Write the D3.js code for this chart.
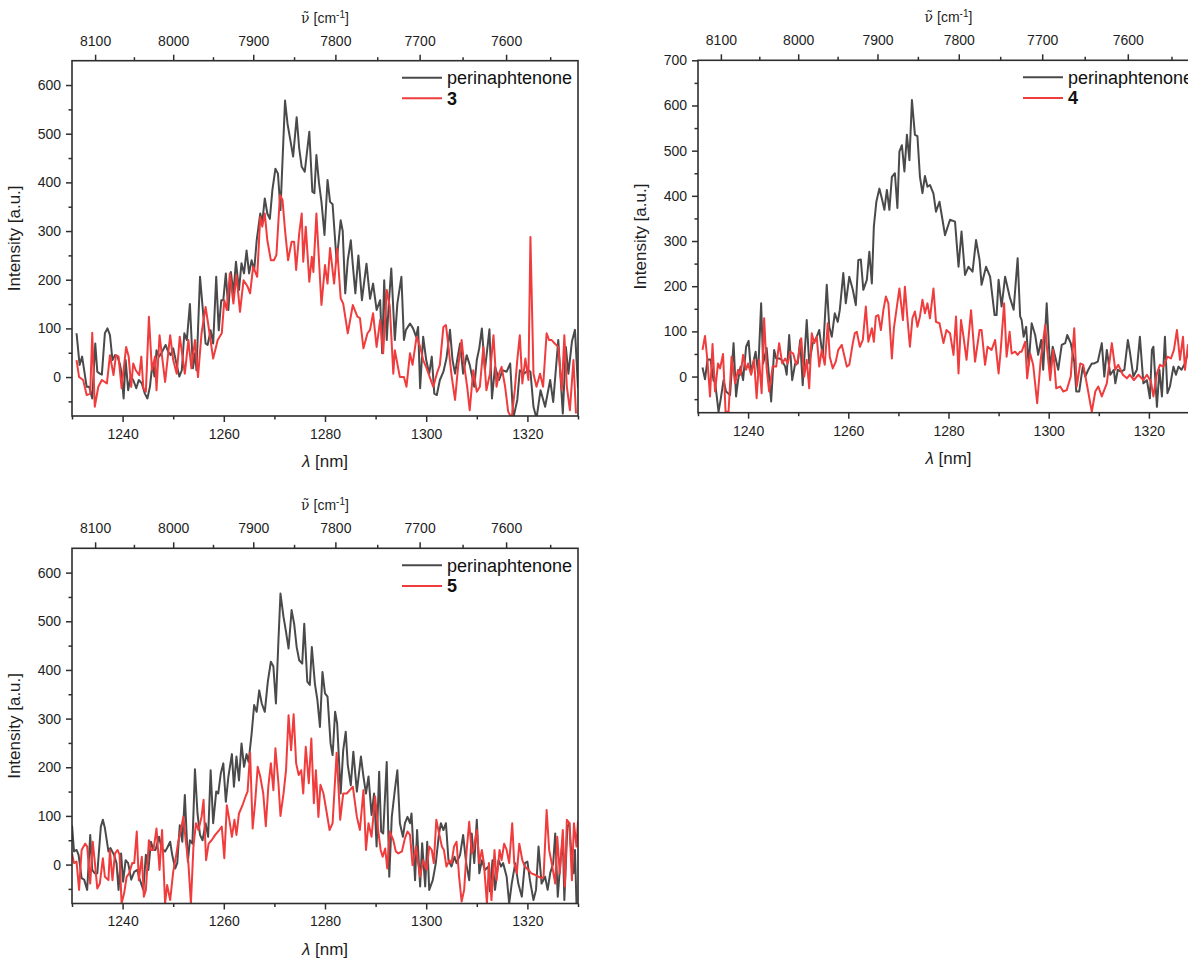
<!DOCTYPE html>
<html><head><meta charset="utf-8">
<script src="https://cdn.jsdelivr.net/npm/d3@7"></script>
<style>
body{margin:0;background:#fff}
svg{display:block}
text{font-family:"Liberation Sans",Arial,Helvetica,sans-serif}
</style>
</head><body>
<svg id="chart" width="1188" height="959"></svg>
<script>
// ---------------- DATA ----------------
// wavelength axis (nm)
const lambdaDomain = [1230, 1330];
const lambdaMajorTicks = [1240, 1260, 1280, 1300, 1320];
const lambdaMinorTicks = [1230, 1250, 1270, 1290, 1310, 1330];
// top wavenumber axis (cm-1)
const wavenumberMajorTicks = [8100, 8000, 7900, 7800, 7700, 7600];
const wavenumberMinorTicks = [8050, 7950, 7850, 7750, 7650, 7550];
// intensity axis
const intensityMin = -80;
const intensityMaxA = 650, intensityMaxB = 700;
const intensityMajorA = [0, 100, 200, 300, 400, 500, 600];
const intensityMajorB = [0, 100, 200, 300, 400, 500, 600, 700];
const intensityMinorA = [-50, 50, 150, 250, 350, 450, 550, 650];
const intensityMinorB = [-50, 50, 150, 250, 350, 450, 550, 650];

const seriesNames = ["perinaphtenone", "3", "4", "5"];

// [lambda (nm), intensity (a.u.)]
const perinaphtenone_panel3 = [[1230.9,90],[1231.5,25],[1232,42],[1232.9,-20],[1233.4,-20],[1234,-44],[1234.6,69],[1235,11],[1235.5,7],[1235.9,5],[1236.5,90],[1237,100],[1237.5,86],[1238,35],[1238.5,45],[1239,42],[1239.5,25],[1239.8,7],[1240.2,-44],[1240.6,35],[1241.1,-27],[1241.6,1],[1242.1,-6],[1242.7,-23],[1243.2,-6],[1243.8,-13],[1244.4,-34],[1244.9,-44],[1245.4,-20],[1245.9,28],[1246.3,1],[1246.7,55],[1247.2,42],[1247.7,50],[1248.5,66],[1249,52],[1249.5,45],[1250,59],[1250.7,25],[1251.2,1],[1251.7,14],[1252.2,90],[1252.7,76],[1253.3,150],[1253.9,18],[1254.3,49],[1254.6,14],[1255.3,206],[1255.8,145],[1256.4,69],[1256.8,66],[1257.4,96],[1257.9,69],[1258.5,206],[1259,96],[1259.5,158],[1259.9,158],[1260.4,213],[1260.9,138],[1261.4,216],[1261.9,172],[1262.4,237],[1263,179],[1263.5,234],[1264,213],[1264.5,260],[1265,213],[1265.5,240],[1266,219],[1266.5,281],[1267.2,336],[1267.6,318],[1268.1,367],[1268.6,336],[1269.1,325],[1269.6,384],[1270.2,428],[1270.7,418],[1271.2,343],[1272.1,568],[1272.6,520],[1273.1,490],[1273.7,453],[1274.4,534],[1274.9,470],[1275.4,432],[1276,422],[1276.9,504],[1277.5,381],[1277.9,378],[1278.3,456],[1278.8,400],[1279.3,360],[1279.9,292],[1280.5,405],[1281,360],[1281.5,355],[1282.3,237],[1283.1,322],[1283.5,300],[1284,172],[1284.5,240],[1285.1,281],[1285.5,230],[1286,172],[1286.6,250],[1287.3,158],[1287.8,200],[1288.2,233],[1288.9,161],[1289.5,192],[1290.2,138],[1290.9,158],[1291.3,49],[1291.7,199],[1292.2,76],[1292.6,150],[1293.1,223],[1293.8,76],[1294.3,151],[1295.1,206],[1295.6,76],[1296,97],[1296.8,110],[1297.4,100],[1298,83],[1298.4,103],[1298.8,-23],[1299.4,83],[1300,35],[1300.6,7],[1301.1,42],[1301.6,-34],[1302.1,-37],[1302.7,-6],[1303.4,11],[1304,38],[1304.7,97],[1305.2,35],[1305.7,7],[1306.2,40],[1306.7,69],[1307.3,7],[1308,45],[1308.6,25],[1309.5,-20],[1310,35],[1310.5,60],[1311,100],[1311.6,14],[1312.5,98],[1313,-44],[1313.6,21],[1314.4,-6],[1315.1,14],[1315.9,11],[1316.6,28],[1317.2,-85],[1318,-47],[1318.5,14],[1319.3,7],[1320.2,14],[1320.6,11],[1321.2,-61],[1321.8,-85],[1322.6,-27],[1323.5,-61],[1324.5,-6],[1325.1,-51],[1326.1,76],[1327,-75],[1327.6,62],[1328.1,7],[1328.8,73],[1329.4,97],[1330,-23]];

const compound3 = [[1230.9,35],[1231.4,0],[1232.2,-6],[1232.9,-37],[1233.6,-34],[1234,91],[1234.5,-61],[1235.2,-20],[1235.9,-6],[1236.9,-13],[1237.5,45],[1238.2,4],[1238.7,45],[1239.2,42],[1239.8,-23],[1240.7,62],[1241.2,42],[1241.7,-20],[1242.1,28],[1242.6,14],[1243.3,4],[1243.7,42],[1244.1,-23],[1244.6,-30],[1245.2,124],[1245.8,14],[1246.4,42],[1246.7,-27],[1247.3,86],[1247.8,42],[1248.4,-10],[1249.4,86],[1250,35],[1250.7,7],[1251.3,83],[1252.3,7],[1253,76],[1253.6,18],[1254.3,76],[1254.9,0],[1255.6,90],[1256.4,144],[1256.9,110],[1257.9,38],[1258.8,76],[1259.6,90],[1260.1,158],[1260.6,138],[1261.2,213],[1261.9,151],[1262.5,210],[1263.2,134],[1263.9,199],[1264.7,186],[1265.2,172],[1265.8,227],[1266.6,206],[1267.2,329],[1267.6,309],[1268.1,336],[1268.6,281],[1269.3,240],[1269.9,240],[1270.4,251],[1271.1,374],[1271.6,364],[1272.1,302],[1272.7,240],[1273.4,278],[1273.9,278],[1274.3,220],[1274.9,295],[1275.4,336],[1275.7,237],[1276.2,309],[1276.9,196],[1277.4,247],[1277.7,216],[1278.3,336],[1279.3,148],[1280,230],[1280.5,192],[1281,265],[1281.8,192],[1282.4,264],[1283.1,162],[1283.6,151],[1284.5,90],[1285.5,148],[1286.4,124],[1286.9,121],[1287.6,59],[1288.4,90],[1288.9,97],[1289.5,131],[1290.2,62],[1290.9,117],[1291.5,49],[1292.2,179],[1292.8,145],[1293.5,7],[1293.8,55],[1294.8,0],[1295.6,0],[1296.1,-20],[1296.8,49],[1297.3,25],[1298.1,83],[1298.8,62],[1299.4,35],[1300.1,18],[1300.7,0],[1301.4,-20],[1302.1,7],[1302.7,25],[1303.4,103],[1303.9,107],[1304.4,62],[1305,4],[1305.7,-47],[1306.3,21],[1307,76],[1307.5,25],[1308.1,-20],[1308.6,-68],[1309.3,14],[1310,-30],[1310.6,-20],[1311.3,62],[1311.9,-27],[1312.6,7],[1313.3,86],[1313.9,-20],[1314.4,7],[1314.9,21],[1315.6,-20],[1316.2,-71],[1316.9,-85],[1317.5,-27],[1318,35],[1318.5,86],[1319,-13],[1319.6,38],[1320.2,-6],[1320.6,288],[1321.2,7],[1321.8,-20],[1322.5,7],[1323.1,-20],[1323.8,90],[1324.3,76],[1324.8,76],[1325.4,69],[1326.1,62],[1326.8,-27],[1327.3,86],[1327.8,-20],[1328.4,-68],[1329.1,35],[1329.6,-75]];

const perinaphtenone_panel4 = [[1230.9,20],[1231.4,-6],[1231.9,38],[1232.5,38],[1233.1,-9],[1233.4,-11],[1234.1,-78],[1234.5,-52],[1235.1,-8],[1235.6,-33],[1236.4,-41],[1237.1,74],[1237.6,-44],[1238,-8],[1238.5,22],[1239,-8],[1239.6,66],[1240.1,79],[1240.6,7],[1241,29],[1241.5,55],[1242,7],[1242.6,162],[1243,29],[1243.7,63],[1244.6,-55],[1245.2,59],[1245.6,40],[1246.2,40],[1246.7,37],[1247.4,22],[1247.7,4],[1248.2,92],[1248.8,-8],[1249.4,29],[1249.9,29],[1250.4,81],[1250.9,-19],[1251.7,125],[1252.2,29],[1252.9,74],[1253.6,85],[1254.2,103],[1254.9,44],[1255.7,203],[1256.2,110],[1256.7,88],[1257.3,140],[1257.9,121],[1258.3,147],[1259,229],[1259.5,162],[1260.2,221],[1260.9,192],[1261.5,158],[1262,258],[1262.5,259],[1263,192],[1263.7,214],[1264.2,276],[1264.7,206],[1265.1,332],[1265.6,387],[1266.2,416],[1266.7,394],[1267.2,369],[1267.7,413],[1268.2,369],[1268.7,442],[1269.3,450],[1269.8,373],[1270.2,498],[1270.7,512],[1271.2,454],[1271.7,535],[1272.2,479],[1272.7,612],[1273.3,535],[1273.8,532],[1274.3,442],[1274.8,406],[1275.3,444],[1275.8,420],[1276.3,424],[1277,405],[1277.5,365],[1278.2,387],[1278.8,347],[1279.3,313],[1280.3,347],[1281.3,343],[1282,243],[1282.6,321],[1283.3,225],[1284,243],[1284.8,232],[1285.5,302],[1286.2,258],[1286.6,203],[1287.5,243],[1288.3,221],[1289.2,136],[1289.6,136],[1290,214],[1290.6,155],[1291.3,221],[1292.2,177],[1293,148],[1293.8,262],[1294.3,133],[1294.6,125],[1295,88],[1295.5,110],[1296,26],[1296.6,118],[1297.3,92],[1297.9,48],[1298.5,81],[1298.9,15],[1299.6,162],[1300.3,15],[1300.8,66],[1301.3,44],[1301.9,15],[1302.6,70],[1303.3,74],[1303.7,92],[1304.4,74],[1305.1,33],[1305.5,-33],[1306.1,-33],[1306.8,22],[1307.3,0],[1307.9,15],[1308.6,29],[1309.1,29],[1309.8,33],[1310.6,74],[1311.1,0],[1311.6,59],[1312.3,4],[1313,15],[1313.3,-15],[1313.8,15],[1314.4,11],[1315.1,15],[1315.8,81],[1316.2,55],[1316.9,0],[1317.6,15],[1318.2,88],[1318.9,-15],[1319.6,-8],[1320.2,-48],[1320.6,59],[1320.9,66],[1321.6,-67],[1322.1,15],[1322.6,-44],[1323.2,88],[1323.7,-37],[1324.2,-22],[1324.9,22],[1325.4,4],[1325.9,22],[1326.5,15],[1327.2,29],[1327.9,59],[1328.5,30],[1329.2,45],[1329.8,20]];

const compound4 = [[1230.9,59],[1231.4,90],[1231.9,33],[1232.4,-44],[1232.9,72],[1233.4,-33],[1234,29],[1234.4,18],[1235,50],[1235.5,-78],[1236.1,-78],[1236.7,44],[1237.4,-15],[1238,15],[1238.5,4],[1239,48],[1239.6,15],[1240,29],[1240.6,4],[1241.2,37],[1241.7,-48],[1242.2,37],[1242.7,-37],[1243.2,129],[1243.7,18],[1244.2,-33],[1244.9,22],[1245.6,22],[1246.2,74],[1246.8,29],[1247.4,40],[1247.9,29],[1248.4,55],[1249,51],[1249.6,26],[1250,40],[1250.6,85],[1251.2,0],[1251.7,37],[1252.2,-26],[1252.7,96],[1253.2,74],[1253.7,88],[1254.2,22],[1254.7,59],[1255.3,26],[1255.9,118],[1256.3,44],[1256.9,18],[1257.5,33],[1258,59],[1258.7,70],[1259.1,51],[1259.7,22],[1260.2,26],[1260.9,74],[1261.3,96],[1261.7,99],[1262.3,66],[1262.9,81],[1263.5,155],[1264,77],[1264.7,107],[1265.1,77],[1265.5,133],[1266,136],[1266.5,103],[1267,147],[1267.5,177],[1268,162],[1268.7,40],[1269.1,107],[1269.7,155],[1270.2,195],[1270.9,125],[1271.3,199],[1271.8,129],[1272.3,66],[1272.8,129],[1273.3,144],[1273.8,110],[1274.3,133],[1274.8,170],[1275.3,140],[1275.8,162],[1276.3,129],[1277,195],[1277.5,121],[1278.2,118],[1279,74],[1279.6,103],[1280.3,96],[1281,48],[1281.5,133],[1282,7],[1282.5,125],[1283,88],[1283.6,37],[1284.5,147],[1285.3,33],[1286.2,103],[1286.6,103],[1287.3,26],[1287.8,66],[1288.6,59],[1289.3,81],[1290,7],[1290.4,55],[1291.1,162],[1291.6,44],[1292.2,99],[1292.6,51],[1293.3,55],[1293.8,48],[1294.3,55],[1294.6,55],[1295.3,77],[1295.7,-4],[1296.3,51],[1296.9,26],[1297.7,-59],[1298.4,37],[1299.3,114],[1299.7,59],[1300.3,-8],[1300.9,59],[1301.5,-26],[1302.3,-22],[1302.9,-33],[1303.6,-30],[1304.4,0],[1305.1,107],[1305.6,-22],[1306.3,29],[1306.9,26],[1307.7,-22],[1308.6,-78],[1309.3,-33],[1309.9,-22],[1310.6,-44],[1311.6,-15],[1312.6,74],[1313.3,15],[1313.9,26],[1314.8,4],[1315.6,-4],[1316.2,4],[1317,-8],[1317.9,4],[1318.9,-8],[1319.6,4],[1320.4,-11],[1320.9,-44],[1321.6,7],[1322.2,26],[1322.9,22],[1323.7,44],[1324.4,40],[1325,59],[1325.6,103],[1326.2,37],[1326.8,88],[1327.2,15],[1327.8,70],[1328.4,20],[1329,60]];

const perinaphtenone_panel5 = [[1230,81],[1230.4,27],[1230.9,30],[1231.3,20],[1231.9,-28],[1232.4,-31],[1233,-52],[1233.6,61],[1234,-11],[1234.5,-18],[1235,-18],[1235.7,78],[1236.1,92],[1236.5,75],[1237.2,27],[1237.6,34],[1238.3,20],[1238.8,3],[1239.2,-52],[1239.7,23],[1240.1,-35],[1240.6,9],[1241.1,3],[1241.7,-31],[1242.3,-15],[1242.9,-11],[1243.4,-31],[1244.1,-52],[1244.6,20],[1245.1,-11],[1245.6,47],[1246.1,30],[1246.5,30],[1247.2,57],[1247.7,34],[1248.4,27],[1248.8,34],[1249.4,47],[1249.8,20],[1250.4,-8],[1250.8,3],[1251.3,81],[1251.8,47],[1252.3,143],[1252.9,6],[1253.3,50],[1253.8,43],[1254.3,196],[1254.8,105],[1255.3,61],[1255.8,50],[1256.4,85],[1256.9,57],[1257.4,194],[1257.9,85],[1258.5,150],[1258.9,146],[1259.4,187],[1259.9,208],[1260.4,129],[1260.9,180],[1261.6,227],[1262,160],[1262.5,222],[1263,173],[1263.5,249],[1264,201],[1264.5,227],[1264.9,211],[1265.5,269],[1266,328],[1266.5,314],[1267,358],[1267.5,331],[1268.1,314],[1268.7,376],[1269.3,417],[1269.8,407],[1270.3,331],[1270.8,461],[1271.2,557],[1271.8,509],[1272.3,478],[1272.8,444],[1273.4,523],[1273.9,495],[1274.4,447],[1274.9,420],[1275.5,413],[1275.9,495],[1276.5,376],[1277,369],[1277.4,447],[1278,372],[1278.5,338],[1279,283],[1279.5,396],[1280,352],[1280.5,345],[1281.1,249],[1281.5,225],[1282,314],[1282.4,290],[1283.1,146],[1283.6,235],[1284.1,273],[1284.5,205],[1285.1,163],[1285.6,232],[1286.3,150],[1287.1,222],[1287.6,181],[1288.1,146],[1288.6,181],[1289.2,102],[1289.7,146],[1290.2,37],[1290.7,191],[1291.1,68],[1291.5,64],[1292.2,211],[1292.7,-25],[1293.2,98],[1293.8,153],[1294.3,194],[1294.8,85],[1295.4,57],[1295.8,85],[1296.3,98],[1296.8,85],[1297.1,105],[1297.8,-32],[1298.2,71],[1298.8,-45],[1299.2,44],[1299.8,-45],[1300.2,47],[1300.6,-52],[1301.3,-32],[1301.9,3],[1302.5,61],[1302.9,85],[1303.4,71],[1303.9,85],[1304.4,9],[1305,-4],[1305.6,16],[1306,3],[1306.7,20],[1307.3,61],[1307.9,3],[1308.5,-32],[1309,64],[1309.5,3],[1310,92],[1310.5,-18],[1311,9],[1311.6,-11],[1312.3,-4],[1312.6,-55],[1313.1,9],[1313.6,-52],[1314.3,9],[1314.8,-4],[1315.2,3],[1315.9,-25],[1316.4,-80],[1316.9,-39],[1317.6,3],[1318.2,-39],[1318.9,-66],[1319.5,3],[1320,6],[1320.5,-32],[1321.2,-73],[1321.7,-52],[1322.2,37],[1322.8,-39],[1323.5,-25],[1324,-52],[1324.5,-18],[1325.1,3],[1325.5,64],[1326,-66],[1326.5,3],[1327,54],[1327.3,-73],[1327.9,78],[1328.3,85],[1328.8,3],[1329.1,-18],[1329.4,30],[1329.7,-80]];

const compound5 = [[1230,23],[1230.4,3],[1230.9,6],[1231.4,-52],[1231.9,30],[1232.6,43],[1233,37],[1233.6,-39],[1234.1,47],[1234.5,6],[1235,-49],[1235.5,-39],[1236.1,13],[1236.5,-25],[1237.2,-32],[1237.5,30],[1238,-32],[1238.5,23],[1239,30],[1239.4,20],[1239.8,-80],[1240.3,-59],[1240.8,-25],[1241.3,-18],[1241.9,3],[1242.3,3],[1242.8,68],[1243.2,-32],[1243.8,16],[1244.2,-66],[1244.6,-52],[1245.2,50],[1245.6,30],[1246.1,30],[1246.7,74],[1247.3,-11],[1247.8,71],[1248.4,-80],[1248.8,-42],[1249.4,-73],[1250,-15],[1250.6,20],[1251,47],[1251.5,71],[1252,98],[1252.5,47],[1253,3],[1253.5,-80],[1254,37],[1254.5,85],[1255,71],[1255.6,98],[1256,133],[1256.5,9],[1257,43],[1257.6,50],[1258.3,61],[1259.1,71],[1259.6,78],[1260.1,13],[1260.6,122],[1261.1,92],[1261.6,57],[1262.1,92],[1262.5,61],[1263,105],[1263.7,122],[1264.3,140],[1264.7,150],[1265.2,230],[1265.7,74],[1266.2,129],[1266.7,201],[1267.2,181],[1267.8,146],[1268.3,79],[1268.8,160],[1269.3,208],[1269.8,153],[1270.2,239],[1270.8,167],[1271.2,100],[1271.8,146],[1272.3,194],[1272.8,307],[1273.3,235],[1273.8,309],[1274.3,208],[1274.8,184],[1275.3,194],[1275.7,146],[1276.2,242],[1276.8,167],[1277.3,259],[1277.8,126],[1278.2,194],[1278.7,98],[1279.1,164],[1279.7,146],[1280.3,109],[1280.9,71],[1281.5,85],[1282.3,230],[1283,92],[1283.6,146],[1284.3,146],[1284.9,153],[1285.5,160],[1286.3,98],[1286.9,71],[1287.6,153],[1288.1,30],[1288.6,85],[1289.2,57],[1289.9,140],[1290.5,71],[1291,30],[1291.4,16],[1291.9,33],[1292.3,-8],[1292.8,68],[1293.5,50],[1294,27],[1294.5,23],[1295.2,27],[1295.8,54],[1296.3,68],[1296.8,61],[1297.3,-1],[1298,37],[1298.4,3],[1298.8,-25],[1299.4,9],[1300.1,-11],[1300.6,37],[1301.1,30],[1301.5,3],[1302,92],[1302.4,71],[1303.1,37],[1303.5,30],[1304,-4],[1304.6,9],[1305,3],[1305.5,37],[1306,47],[1306.5,-25],[1307,-76],[1307.5,-52],[1308,30],[1308.5,88],[1309,23],[1309.4,33],[1310,71],[1310.5,3],[1311,30],[1311.4,3],[1312,-80],[1312.4,3],[1312.9,-73],[1313.5,30],[1313.9,-32],[1314.5,30],[1314.9,9],[1315.4,43],[1315.9,30],[1316.4,3],[1317,85],[1317.4,3],[1317.9,-18],[1318.4,43],[1319,9],[1319.5,-4],[1320.2,-11],[1320.8,-18],[1321.5,-21],[1322.2,-25],[1322.8,-28],[1323.2,-25],[1323.8,112],[1324.3,30],[1324.8,3],[1325.5,-39],[1325.9,57],[1326.4,-18],[1327,71],[1327.4,-45],[1327.8,92],[1328.3,85],[1328.8,-32],[1329.2,85],[1329.7,37],[1330,90]];

// ---------------- LAYOUT ----------------
const panels = [
  {left:72, right:578, top:60.7, bottom:416, yMax:intensityMaxA, yMajor:intensityMajorA, yMinor:intensityMinorA,
   ref:perinaphtenone_panel3, sample:compound3, label:seriesNames[1]},
  {left:698, right:1199, top:60.3, bottom:412.7, yMax:intensityMaxB, yMajor:intensityMajorB, yMinor:intensityMinorB,
   ref:perinaphtenone_panel4, sample:compound4, label:seriesNames[2]},
  {left:72, right:578, top:548.3, bottom:903.5, yMax:intensityMaxA, yMajor:intensityMajorA, yMinor:intensityMinorA,
   ref:perinaphtenone_panel5, sample:compound5, label:seriesNames[3]}
];
const GRAY = "#4a4a4a", RED = "#f03c3c", AXIS = "#2e2e2e", TXT = "#1e1e1e";

const svg = d3.select("#chart");
svg.append("rect").attr("width",1188).attr("height",959).attr("fill","#fff");
const defs = svg.append("defs");

panels.forEach((p, i) => {
  const x = d3.scaleLinear().domain(lambdaDomain).range([p.left, p.right]);
  const y = d3.scaleLinear().domain([intensityMin, p.yMax]).range([p.bottom, p.top]);
  const g = svg.append("g");

  defs.append("clipPath").attr("id", "clip" + i)
    .append("rect").attr("x", p.left).attr("y", p.top)
    .attr("width", p.right - p.left).attr("height", p.bottom - p.top);

  const line = d3.line().x(d => x(d[0])).y(d => y(d[1]));
  const plot = g.append("g").attr("clip-path", `url(#clip${i})`);
  plot.append("path").datum(p.ref).attr("d", line).attr("fill","none")
    .attr("stroke", GRAY).attr("stroke-width", 2).attr("stroke-linejoin","round");
  plot.append("path").datum(p.sample).attr("d", line).attr("fill","none")
    .attr("stroke", RED).attr("stroke-width", 2).attr("stroke-linejoin","round");

  const styleAxis = sel => {
    sel.select(".domain").remove();
    sel.attr("color", AXIS).attr("font-size", null).attr("font-family", null);
    sel.selectAll(".tick line").attr("stroke-width", 1.5);
    sel.selectAll(".tick text").attr("fill", TXT).style("font-size", "14px");
  };

  // bottom axis
  g.append("g").attr("transform", `translate(0,${p.bottom})`)
    .call(d3.axisBottom(x).tickValues(lambdaMajorTicks).tickFormat(d3.format("d")).tickSize(6).tickPadding(7))
    .call(styleAxis);
  g.append("g").attr("transform", `translate(0,${p.bottom})`)
    .call(d3.axisBottom(x).tickValues(lambdaMinorTicks).tickFormat("").tickSize(3.5))
    .call(styleAxis);

  // top axis (wavenumber = 1e7 / lambda)
  g.append("g").attr("transform", `translate(0,${p.top})`)
    .call(d3.axisTop(x).tickValues(wavenumberMajorTicks.map(w => 1e7 / w))
      .tickFormat(d => String(Math.round(1e7 / d))).tickSize(6).tickPadding(9))
    .call(styleAxis);
  g.append("g").attr("transform", `translate(0,${p.top})`)
    .call(d3.axisTop(x).tickValues(wavenumberMinorTicks.map(w => 1e7 / w)).tickFormat("").tickSize(3.5))
    .call(styleAxis);

  // left axis
  g.append("g").attr("transform", `translate(${p.left},0)`)
    .call(d3.axisLeft(y).tickValues(p.yMajor).tickFormat(d3.format("d")).tickSize(6).tickPadding(5))
    .call(styleAxis);
  g.append("g").attr("transform", `translate(${p.left},0)`)
    .call(d3.axisLeft(y).tickValues(p.yMinor.filter(v => v < p.yMax)).tickFormat("").tickSize(3.5))
    .call(styleAxis);

  // frame
  g.append("rect").attr("x", p.left).attr("y", p.top)
    .attr("width", p.right - p.left).attr("height", p.bottom - p.top)
    .attr("fill", "none").attr("stroke", AXIS).attr("stroke-width", 1.6);

  const cx = (p.left + p.right) / 2, cy = (p.top + p.bottom) / 2;

  // top title
  const tt = g.append("text").attr("x", cx).attr("y", p.top - 38)
    .attr("text-anchor", "middle").attr("fill", TXT).style("font-size", "14px");
  tt.append("tspan").style("font-family", "'DejaVu Serif','Liberation Serif',serif").text("\u03BD\u0303");
  tt.append("tspan").text(" [cm");
  tt.append("tspan").attr("dy", -5).style("font-size", "10px").text("-1");
  tt.append("tspan").attr("dy", 5).text("]");

  // bottom title
  const bt = g.append("text").attr("x", cx).attr("y", p.bottom + 51)
    .attr("text-anchor", "middle").attr("fill", TXT).style("font-size", "17px");
  bt.append("tspan").style("font-style", "italic").text("\u03BB");
  bt.append("tspan").text(" [nm]");

  // y title
  g.append("text").attr("transform", `translate(${p.left - 52},${cy}) rotate(-90)`)
    .attr("text-anchor", "middle").attr("fill", TXT).style("font-size", "17px")
    .text("Intensity [a.u.]");

  // legend
  const lg = g.append("g");
  const rows = [{name: seriesNames[0], color: GRAY, bold: false, dy: 17},
                {name: p.label, color: RED, bold: true, dy: 37.6}];
  rows.forEach(r => {
    lg.append("line").attr("x1", p.right - 176).attr("x2", p.right - 136)
      .attr("y1", p.top + r.dy).attr("y2", p.top + r.dy)
      .attr("stroke", r.color).attr("stroke-width", 2);
    lg.append("text").attr("x", p.right - 131).attr("y", p.top + r.dy).attr("dy", "0.35em")
      .attr("fill", "#111").style("font-size", "18px").style("font-weight", r.bold ? "bold" : "normal")
      .text(r.name);
  });
});
</script>
</body></html>
